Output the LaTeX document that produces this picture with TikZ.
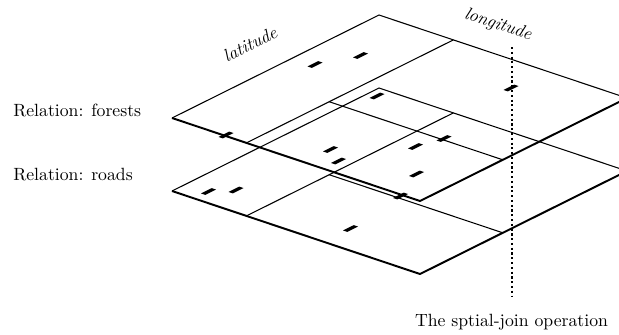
\documentclass[tikz,border=0pt]{standalone}
\begin{document}
\begin{tikzpicture}[x=0.565pt,y=-0.565pt,
  backedge/.style={line width=0.6pt},
  frontedge/.style={line width=1.1pt, line join=round},
  gridline/.style={line width=0.6pt},
  joinline/.style={line width=1.2pt, dash pattern=on 1.2pt off 1.5pt},
  axislabel/.style={font=\itshape, inner sep=0pt},
  relabel/.style={anchor=base west, inner sep=0pt},
  dataobj/.pic={\fill (-7.5,1.96) -- (3.24,-3.38) -- (7.5,-1.96) -- (-3.24,3.38) -- cycle;}
]
\useasboundingbox (0,0) rectangle (619,334);
\clip (0,0) rectangle (619,334);

% two relation layers: f = forests (upper), r = roads (lower)
\foreach \lay/\dy in {f/0, r/73} {
  \coordinate (\lay L) at (172,118+\dy);
  \coordinate (\lay T) at (379,15+\dy);
  \coordinate (\lay R) at (627,98+\dy);
  \coordinate (\lay B) at (420,201+\dy);
  \coordinate (\lay v0) at (246.4,142.9+\dy);
  \coordinate (\lay v1) at (453.4,39.9+\dy);
  \coordinate (\lay u0) at (329.2,101.7+\dy);
  \coordinate (\lay u1) at (502.8,159.8+\dy);
  \draw[backedge] (\lay L) -- (\lay T) -- (\lay R);
  \draw[frontedge] (\lay L) -- (\lay B) -- (\lay R);
  \draw[gridline] (\lay v0) -- (\lay v1);
  \draw[gridline] (\lay u0) -- (\lay u1);
}

% spatial objects of the forests relation
\foreach \p in {(315,64.5),(360.5,55.5),(377,96),(511,88),(226,135),
                (330.5,149.5),(338.5,161),(415.5,146.5),(444,138.5),
                (416.5,174),(400.5,196)}
  \pic at \p {dataobj};

% spatial objects of the roads relation
\foreach \p in {(208.5,191.5),(236,190),(350.5,228.5)}
  \pic at \p {dataobj};

% labels
\node[relabel] (forests) at (13,116.7) {Relation: forests};
\node[relabel] (roads) at (13,180) {Relation: roads};
\node[axislabel, rotate=26.5] (lat) at (250,44) {latitude};
\node[axislabel, rotate=-18.5] (lon) at (498,25) {longitude};

% join line
\coordinate (jtop) at (512,47);
\coordinate (jbot) at (512,296);
\draw[joinline] (jtop) -- (jbot);
\node[anchor=base] (join) at (511.5,326) {The sptial-join operation};
\end{tikzpicture}
\end{document}
